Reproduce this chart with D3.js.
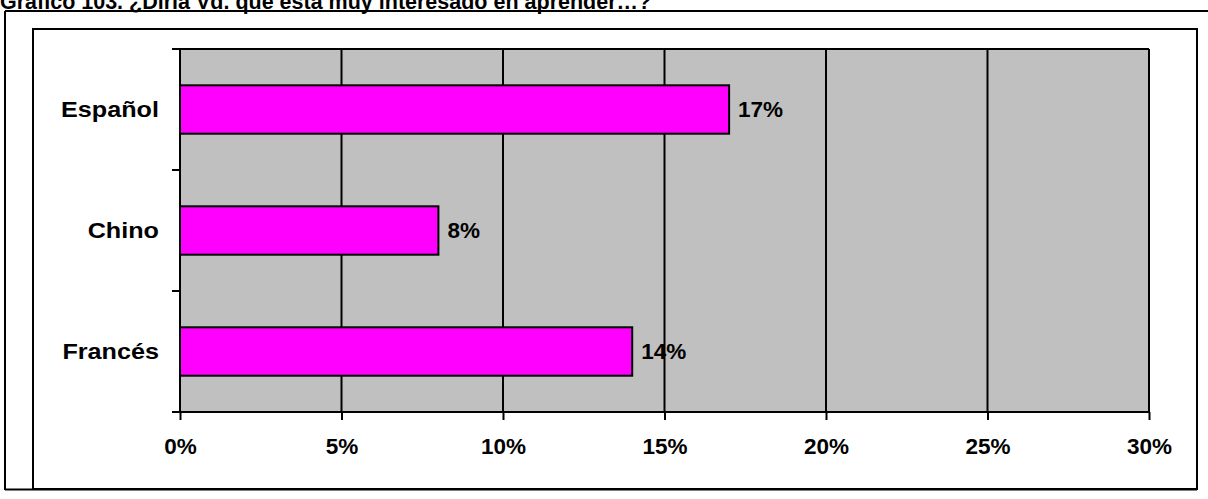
<!DOCTYPE html>
<html>
<head>
<meta charset="utf-8">
<script src="https://cdn.jsdelivr.net/npm/d3@7"></script>
<style>
  body { margin: 0; background: #fff; }
  svg { display: block; font-family: "Liberation Sans", Arial, sans-serif; }
  .lbl { font-weight: bold; font-size: 22.5px; fill: #000; }
</style>
</head>
<body>
<div id="chart"></div>
<script>
// Data
const categories = ["Español", "Chino", "Francés"];
const values = [0.17, 0.08, 0.14];
const xTicks = [0, 0.05, 0.10, 0.15, 0.20, 0.25, 0.30];
const titleText = "Gráfico 103. ¿Diría Vd. que está muy interesado en aprender…?";

const W = 1208, H = 499;
const margin = { top: 49, left: 180, right: 59, bottom: 87 };
const width = W - margin.left - margin.right;   // 969
const height = H - margin.top - margin.bottom;  // 363

const svg = d3.select("#chart").append("svg")
    .attr("width", W)
    .attr("height", H);

// Title (cut at the top like the source)
svg.append("text")
    .attr("x", 0)
    .attr("y", 9)
    .attr("font-weight", "bold")
    .attr("font-size", "21.5px")
    .text(titleText);

// outer frame lines
svg.append("line").attr("x1", 5).attr("x2", W).attr("y1", 11).attr("y2", 11)
    .attr("stroke", "#000").attr("stroke-width", 2);
svg.append("line").attr("x1", 5).attr("x2", 5).attr("y1", 11).attr("y2", 490)
    .attr("stroke", "#000").attr("stroke-width", 2);
svg.append("line").attr("x1", 5).attr("x2", 1197).attr("y1", 489.5).attr("y2", 489.5)
    .attr("stroke", "#000").attr("stroke-width", 2);

// chart area frame
svg.append("rect")
    .attr("x", 33).attr("y", 29)
    .attr("width", 1197 - 33).attr("height", 489 - 29)
    .attr("fill", "none")
    .attr("stroke", "#000")
    .attr("stroke-width", 2);

const g = svg.append("g")
    .attr("transform", `translate(${margin.left},${margin.top})`);

const x = d3.scaleLinear().domain([0, 0.30]).range([0, width]);
const y = d3.scaleBand().domain(categories).range([0, height])
    .paddingInner(0.6).paddingOuter(0.3);

// plot area
g.append("rect")
    .attr("width", width)
    .attr("height", height)
    .attr("fill", "#C0C0C0");

// vertical gridlines
g.selectAll(".grid").data(xTicks.slice(1)).enter().append("line")
    .attr("class", "grid")
    .attr("x1", d => x(d)).attr("x2", d => x(d))
    .attr("y1", 0).attr("y2", height)
    .attr("stroke", "#000")
    .attr("stroke-width", 2);

// top border
g.append("line")
    .attr("x1", 0).attr("x2", width)
    .attr("y1", 0).attr("y2", 0)
    .attr("stroke", "#000").attr("stroke-width", 2);

// bars
g.selectAll(".bar").data(categories).enter().append("rect")
    .attr("class", "bar")
    .attr("x", x(0))
    .attr("y", d => y(d))
    .attr("width", (d, i) => x(values[i]) - x(0))
    .attr("height", y.bandwidth())
    .attr("fill", "#FF00FF")
    .attr("stroke", "#000")
    .attr("stroke-width", 2);

// value labels
g.selectAll(".val").data(categories).enter().append("text")
    .attr("class", "lbl")
    .attr("x", (d, i) => x(values[i]) + 9)
    .attr("y", d => y(d) + y.bandwidth() / 2)
    .attr("dy", "0.35em")
    .text((d, i) => Math.round(values[i] * 100) + "%");

// x axis
const xAxis = d3.axisBottom(x)
    .tickValues(xTicks)
    .tickFormat(d => Math.round(d * 100) + "%")
    .tickSize(8)
    .tickPadding(18);

const xg = g.append("g")
    .attr("transform", `translate(0,${height})`)
    .call(xAxis);
xg.select(".domain").attr("stroke-width", 2).attr("d", `M-8,0H${width}`);
xg.selectAll(".tick line").attr("stroke-width", 2);
xg.selectAll(".tick text").attr("class", "lbl").attr("font-size", null).attr("font-family", null);

// y axis: line + ticks at category boundaries
g.append("line")
    .attr("x1", 0).attr("x2", 0).attr("y1", 0).attr("y2", height)
    .attr("stroke", "#000").attr("stroke-width", 2);
const bounds = d3.range(categories.length + 1).map(i => i * height / categories.length);
g.selectAll(".ytick").data(bounds).enter().append("line")
    .attr("x1", -8).attr("x2", 0)
    .attr("y1", d => d).attr("y2", d => d)
    .attr("stroke", "#000").attr("stroke-width", 2);

// category labels, a bit wider than tall as in the source
g.selectAll(".cat").data(categories).enter().append("text")
    .attr("class", "lbl")
    .attr("transform", d => `translate(-21,${y(d) + y.bandwidth() / 2}) scale(1.12,1)`)
    .attr("dy", "0.35em")
    .attr("text-anchor", "end")
    .text(d => d);
</script>
</body>
</html>
